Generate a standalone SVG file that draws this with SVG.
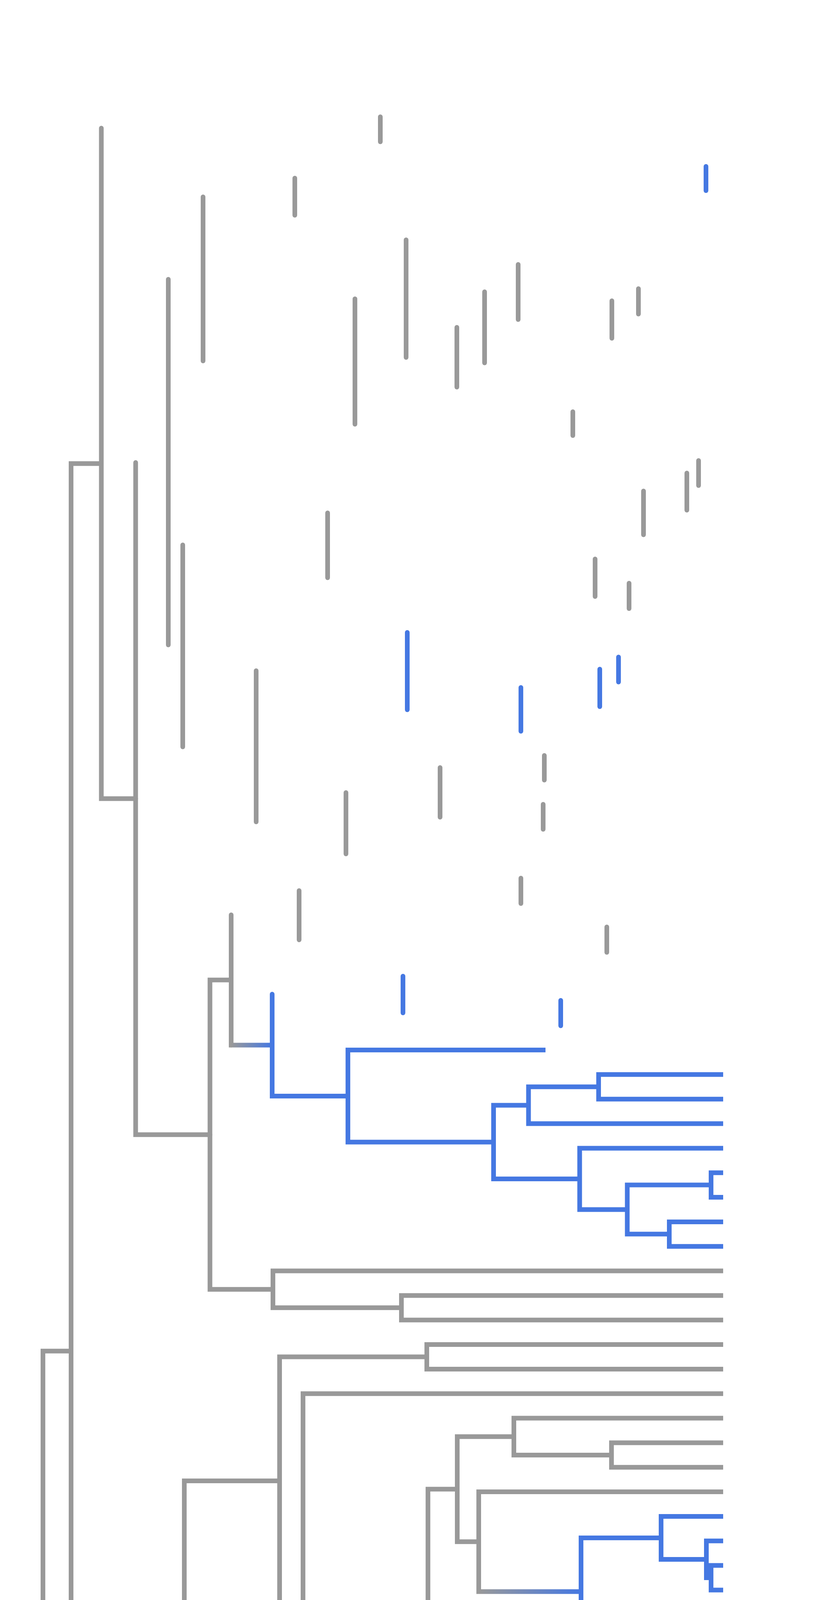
<svg xmlns="http://www.w3.org/2000/svg" width="2100" height="7200" viewBox="0 0 2100 7200">
<defs>
<style>
.g{fill:none;stroke:#999999;stroke-width:12;stroke-linejoin:miter;stroke-linecap:butt}
.b{fill:none;stroke:#4578e2;stroke-width:12;stroke-linejoin:miter;stroke-linecap:butt}
.r{stroke-linecap:round}
.t{fill:none;stroke-width:12;stroke-linecap:butt}
</style>
<linearGradient id="gEF" gradientUnits="userSpaceOnUse" x1="592" y1="0" x2="697" y2="0"><stop offset="0" stop-color="#999999"/><stop offset="1" stop-color="#4578e2"/></linearGradient>
<linearGradient id="gAD" gradientUnits="userSpaceOnUse" x1="1226" y1="0" x2="1488" y2="0"><stop offset="0" stop-color="#999999"/><stop offset="1" stop-color="#4578e2"/></linearGradient>
<linearGradient id="gL26" gradientUnits="userSpaceOnUse" x1="1538.7" y1="0" x2="1852" y2="0"><stop offset="0" stop-color="#999999"/><stop offset="1" stop-color="#4578e2"/></linearGradient>
<linearGradient id="gL28" gradientUnits="userSpaceOnUse" x1="1767" y1="0" x2="1852" y2="0"><stop offset="0" stop-color="#999999"/><stop offset="1" stop-color="#4578e2"/></linearGradient>
<linearGradient id="gL63" gradientUnits="userSpaceOnUse" x1="492" y1="0" x2="1852" y2="0"><stop offset="0" stop-color="#999999"/><stop offset="1" stop-color="#4578e2"/></linearGradient>
</defs>
<rect x="0" y="0" width="2100" height="7200" fill="#ffffff"/>
<g id="stubs">
<path class="g r" d="M974,299 V363"/>
<path class="g r" d="M755,456 V551"/>
<path class="g r" d="M520,504 V924"/>
<path class="g r" d="M1040,614 V915"/>
<path class="g r" d="M431,715 V1651"/>
<path class="g r" d="M909,765 V1086"/>
<path class="g r" d="M1327,677 V818"/>
<path class="g r" d="M1241,747 V929"/>
<path class="g r" d="M1170,838 V991"/>
<path class="g r" d="M1567,770 V866"/>
<path class="g r" d="M1635,739 V804"/>
<path class="g r" d="M1467,1054 V1115"/>
<path class="g r" d="M1789,1179 V1243"/>
<path class="g r" d="M1759,1211 V1306"/>
<path class="g r" d="M1648,1257 V1369"/>
<path class="g r" d="M1524,1431 V1527"/>
<path class="g r" d="M1611,1493 V1558"/>
<path class="g r" d="M468,1395 V1912"/>
<path class="g r" d="M839,1313 V1479"/>
<path class="g r" d="M656,1717 V2104"/>
<path class="g r" d="M886,2029 V2186"/>
<path class="g r" d="M1127,1965 V2092"/>
<path class="g r" d="M1394,1934 V1997"/>
<path class="g r" d="M1391,2059 V2123"/>
<path class="g r" d="M1334,2248 V2313"/>
<path class="g r" d="M766,2280 V2406"/>
<path class="g r" d="M1554,2373 V2438"/>
<path class="b r" d="M1808,426 V488"/>
<path class="b r" d="M1043,1619 V1817"/>
<path class="b r" d="M1334,1760 V1872"/>
<path class="b r" d="M1536,1713 V1809"/>
<path class="b r" d="M1584,1682 V1746"/>
<path class="b r" d="M1032,2499 V2593"/>
<path class="b r" d="M1436,2561 V2626"/>
</g>
<g id="connectors">
<path id="n-root" class="g" d="M182,3458.8 H110 V6705.9 H492"/>
<path id="n-A" class="g" d="M259.5,1186.7 H182 V5730.8 H262"/>
<path id="n-B" class="g r" d="M259.5,328 V2044.4 H347.4"/>
<path id="n-C" class="g r" d="M347.4,1184 V2904.7 H537.7"/>
<path id="n-D" class="g" d="M592,2508.7 H537.7 V3300.7 H699"/>
<path id="n-E" class="g r" d="M592,2342 V2675.5"/>
<path id="n-O" class="g" d="M1852,3253.6 H699 V3347.8 H1028"/>
<path id="n-P" class="g" d="M1852,3316.4 H1028 V3379.2 H1852"/>
<path id="n-Q" class="g" d="M472,4877.4 H262 V6584.1 H1852"/>
<path id="n-S" class="g" d="M716,3791.1 H472 V5963.6 H657"/>
<path id="n-T" class="g" d="M1093,3473.5 H716 V4108.7 H776"/>
<path id="n-V" class="g" d="M1852,3442.1 H1093 V3504.9 H1852"/>
<path id="n-W" class="g" d="M1852,3567.8 H776 V4649.6 H908"/>
<path id="n-X1" class="g" d="M1096,4183.9 H908 V5115.2 H1148"/>
<path id="n-Y1" class="g" d="M1171,3812.3 H1096 V4555.5 H1194"/>
<path id="n-AA" class="g" d="M1316,3677.8 H1171 V3946.8 H1226"/>
<path id="n-AC" class="g" d="M1852,3630.6 H1316 V3724.9 H1566"/>
<path id="n-AE" class="g" d="M1852,3693.4 H1566 V3756.3 H1852"/>
<path id="n-AD" class="g" d="M1852,3819.1 H1226 V4074.5"/>
<path id="n-AB" class="g" d="M1264,4475 H1194 V4636 H1852"/>
<path id="n-AL" class="g" d="M1538.7,4376.9 H1264 V4573.2 H1852"/>
<path id="n-AM" class="g" d="M1538.7,4321.8 V4431.9 H1670"/>
<path id="n-AN" class="g" d="M1852,4384.7 H1670 V4479 H1767"/>
<path id="n-AO" class="g" d="M1767,4447.5 V4510.4 H1852"/>
<path id="n-Z1" class="g" d="M1235,4997.4 H1148 V5233 H1699"/>
<path id="n-AP" class="g" d="M1354,4887.4 H1235 V5107.4 H1610"/>
<path id="n-AR" class="g" d="M1519,4793.2 H1354 V4981.7 H1784"/>
<path id="n-AT" class="g" d="M1815,4730.3 H1519 V4856 H1823"/>
<path id="n-AV" class="g" d="M1852,4698.9 H1815 V4761.7 H1852"/>
<path id="n-AW" class="g" d="M1852,4824.6 H1823 V4887.4 H1852"/>
<path id="n-AU" class="g" d="M1852,4950.2 H1784 V5013.1 H1852"/>
<path id="n-AS" class="g" d="M1852,5075.9 H1610 V5138.8 H1852"/>
<path id="n-AQ" class="g" d="M1852,5201.6 H1699 V5264.4 H1852"/>
<path id="n-U" class="g" d="M794,5610.1 H657 V6317.1 H715"/>
<path id="n-AX" class="g" d="M1235,5484.4 H794 V5735.8 H1363"/>
<path id="n-AZ" class="g" d="M1440,5374.4 H1235 V5594.4 H1558"/>
<path id="n-BB" class="g" d="M1852,5327.3 H1440 V5421.6 H1696"/>
<path id="n-BD" class="g" d="M1852,5390.1 H1696 V5453 H1852"/>
<path id="n-BC" class="g" d="M1771,5547.2 H1558 V5641.5 H1852"/>
<path id="n-BE" class="g" d="M1852,5515.8 H1771 V5578.6 H1852"/>
<path id="n-BA" class="g" d="M1852,5704.3 H1363 V5767.2 H1852"/>
<path id="n-AY" class="g" d="M850,6144.3 H715 V6489.8 H966"/>
<path id="n-BF" class="g" d="M1090,5987.2 H850 V6301.4 H935"/>
<path id="n-BH" class="g" d="M1354,5908.6 H1090 V6065.7 H1363"/>
<path id="n-BJ" class="g" d="M1645,5861.4 H1354 V5955.7 H1852"/>
<path id="n-BL" class="g" d="M1852,5830 H1645 V5892.8 H1852"/>
<path id="n-BK" class="g" d="M1852,6018.5 H1363 V6112.8 H1780"/>
<path id="n-BM" class="g" d="M1852,6081.4 H1780 V6144.2 H1852"/>
<path id="n-BI" class="g" d="M1488,6238.5 H935 V6364.2 H1447"/>
<path id="n-BN" class="g" d="M1852,6207 H1488 V6269.9 H1852"/>
<path id="n-BO" class="g" d="M1852,6332.7 H1447 V6395.6 H1852"/>
<path id="n-BG" class="g" d="M1852,6458.4 H966 V6521.2 H1852"/>
<path id="n-BP" class="g" d="M492,6646.9 V6764.8 H1587"/>
<path id="n-BQ" class="g" d="M1852,6709.8 H1587 V6819.8 H1659"/>
<path id="n-BR" class="g" d="M1852,6772.6 H1659 V6866.9 H1723"/>
<path id="n-BS" class="g" d="M1852,6835.4 H1723 V6898.3 H1852"/>
<path id="n-F" class="b r" d="M697,2545 V2805.9 H891"/>
<path id="n-G" class="b" d="M1397,2688 H891 V2923.7 H1264"/>
<path id="n-H" class="b" d="M1353.5,2829.4 H1264 V3018 H1484.5"/>
<path id="n-I" class="b" d="M1533,2782.3 H1353.5 V2876.5 H1852"/>
<path id="n-J" class="b" d="M1852,2750.8 H1533 V2813.7 H1852"/>
<path id="n-K" class="b" d="M1852,2939.4 H1484.5 V3096.5 H1606.4"/>
<path id="n-L" class="b" d="M1821,3033.6 H1606.4 V3159.3 H1714"/>
<path id="n-M" class="b" d="M1852,3002.2 H1821 V3065 H1852"/>
<path id="n-N" class="b" d="M1852,3127.9 H1714 V3190.7 H1852"/>
<path id="n-AF" class="b" d="M1693,3937 H1488 V4211.9 H1616"/>
<path id="n-AG" class="b" d="M1852,3882 H1693 V3992 H1809"/>
<path id="n-AI" class="b" d="M1852,3944.8 H1809 V4039.1 H1821"/>
<path id="n-AJ" class="b" d="M1852,4007.6 H1821 V4070.5 H1852"/>
<path id="n-AH" class="b" d="M1740,4164.8 H1616 V4259 H1852"/>
<path id="n-AK" class="b" d="M1852,4133.3 H1740 V4196.2 H1852"/>
<path id="e-EF" class="t" stroke="url(#gEF)" d="M586,2675.5 H697"/>
<path id="e-AD" class="t" stroke="url(#gAD)" d="M1220,4074.5 H1488"/>
<path id="e-L26" class="t" stroke="url(#gL26)" d="M1532.7,4321.8 H1852"/>
<path id="e-L28" class="t" stroke="url(#gL28)" d="M1761,4447.5 H1852"/>
<path id="e-L63" class="t" stroke="url(#gL63)" d="M486,6646.9 H1852"/>
</g>
</svg>
